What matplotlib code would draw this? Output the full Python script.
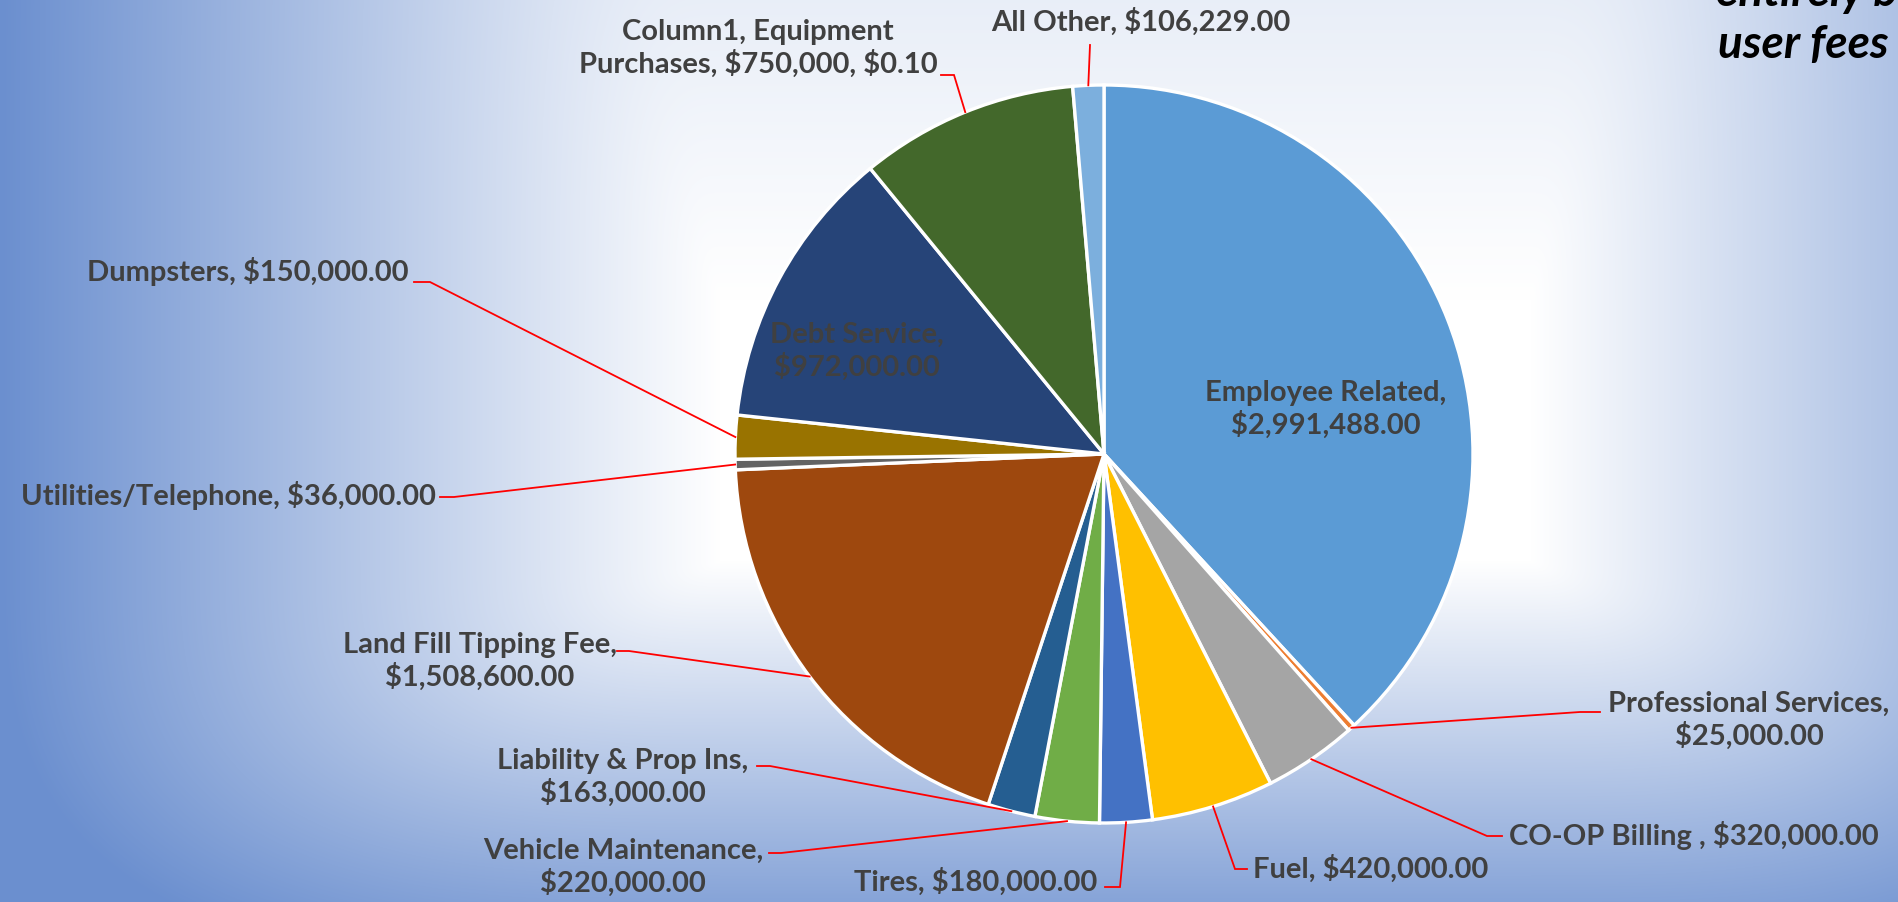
import matplotlib
matplotlib.use("Agg")
import matplotlib.pyplot as plt
import numpy as np

W, H = 1898, 902

categories = [
    "Employee Related", "Professional Services", "CO-OP Billing ", "Fuel", "Tires",
    "Vehicle Maintenance", "Liability & Prop Ins", "Land Fill Tipping Fee",
    "Utilities/Telephone", "Dumpsters", "Debt Service", "Equipment Purchases", "All Other",
]
values = [2991488, 25000, 320000, 420000, 180000, 220000, 163000, 1508600,
          36000, 150000, 972000, 750000, 106229]
label_texts = [
    "Employee Related,\n$2,991,488.00",
    "Professional Services,\n$25,000.00",
    "CO-OP Billing , $320,000.00",
    "Fuel, $420,000.00",
    "Tires, $180,000.00",
    "Vehicle Maintenance,\n$220,000.00",
    "Liability & Prop Ins,\n$163,000.00",
    "Land Fill Tipping Fee,\n$1,508,600.00",
    "Utilities/Telephone, $36,000.00",
    "Dumpsters, $150,000.00",
    "Debt Service,\n$972,000.00",
    "Column1, Equipment\nPurchases, $750,000, $0.10",
    "All Other, $106,229.00",
]
colors = ["#5B9BD5", "#ED7D31", "#A5A5A5", "#FFC000", "#4472C4", "#70AD47", "#255E91",
          "#9E480E", "#636363", "#997300", "#264478", "#43682B", "#7CAFDD"]

# label layout in pixel coords (y measured from top): text xy, alignment, elbow, leader end
layout = [
    ((1326, 409), "center", None, None),
    ((1749, 720), "center", (1580, 712), (1600, 712)),
    ((1509, 835), "left", (1487, 836), (1502, 836)),
    ((1253, 869), "left", (1235, 869), (1247, 869)),
    ((1097, 882), "right", (1120, 887), (1105, 887)),
    ((623, 867), "center", (781, 853), (769, 853)),
    ((623, 777), "center", (770, 766), (757, 766)),
    ((480, 661), "center", (629, 651), (617, 651)),
    ((436, 496), "right", (454, 497), (440, 497)),
    ((409, 272), "right", (430, 282), (414, 282)),
    ((857, 351), "center", None, None),
    ((758, 48), "center", (954, 75), (941, 75)),
    ((1141, 22), "center", (1090, 45), (1090, 45)),
]

CX, CY, R = 1104, 454, 369
LABEL_COLOR = "#404040"
FONT = "Lato"


def background():
    xs = np.arange(W)[None, :].astype(float)
    ys = np.arange(H)[:, None].astype(float)
    tx = np.where(xs < 720, (720 - xs) / 720, np.clip((xs - 1530) / 680, 0, None))
    ty = np.where(ys > 560, (ys - 560) / 420, np.clip((300 - ys) / 300 * 0.15, 0, None))
    tx = np.clip(tx, 0, 1)
    ty = np.clip(ty, 0, 1)
    t = np.clip((tx ** 3 + ty ** 3) ** (1 / 3), 0, 1)
    blue = np.array([107, 143, 207]) / 255.0
    white = np.ones(3)
    img = white[None, None, :] * (1 - t[..., None]) + blue[None, None, :] * t[..., None]
    return img


def fy(y):
    return H - y


fig = plt.figure(figsize=(W / 100, H / 100), dpi=100)
ax = fig.add_axes([0, 0, 1, 1])
ax.imshow(background(), extent=(0, W, 0, H), aspect="auto", zorder=0)

wedges, _ = ax.pie(
    values,
    colors=colors,
    startangle=90,
    counterclock=False,
    center=(CX, fy(CY)),
    radius=R,
    wedgeprops=dict(edgecolor="white", linewidth=2.4),
)
for w in wedges:
    w.set_zorder(2)

total = float(sum(values))
start = 0.0
for val, text, (pos, ha, elbow, end) in zip(values, label_texts, layout):
    span = val / total * 360.0
    mid = np.radians(start + span / 2)
    start += span
    ax.text(pos[0], fy(pos[1]), text, ha=ha, va="center", fontsize=21,
            fontweight="bold", family=FONT, color=LABEL_COLOR,
            linespacing=1.2, parse_math=False, zorder=4)
    if elbow is None:
        continue
    sx = CX + R * np.sin(mid)
    sy = CY - R * np.cos(mid)
    ax.plot([sx, elbow[0], end[0]], [fy(sy), fy(elbow[1]), fy(end[1])],
            color="#FF0000", linewidth=1.3, zorder=3, solid_joinstyle="miter")

ax.text(1716, fy(6), "entirely by", ha="left", va="baseline", fontsize=33,
        fontweight="bold", style="italic", family=FONT, color="black", zorder=4)
ax.text(1718, fy(58), "user fees", ha="left", va="baseline", fontsize=33,
        fontweight="bold", style="italic", family=FONT, color="black", zorder=4)

ax.set_xlim(0, W)
ax.set_ylim(0, H)
ax.set_aspect("auto")
ax.axis("off")

fig.savefig("out.png", dpi=100)
